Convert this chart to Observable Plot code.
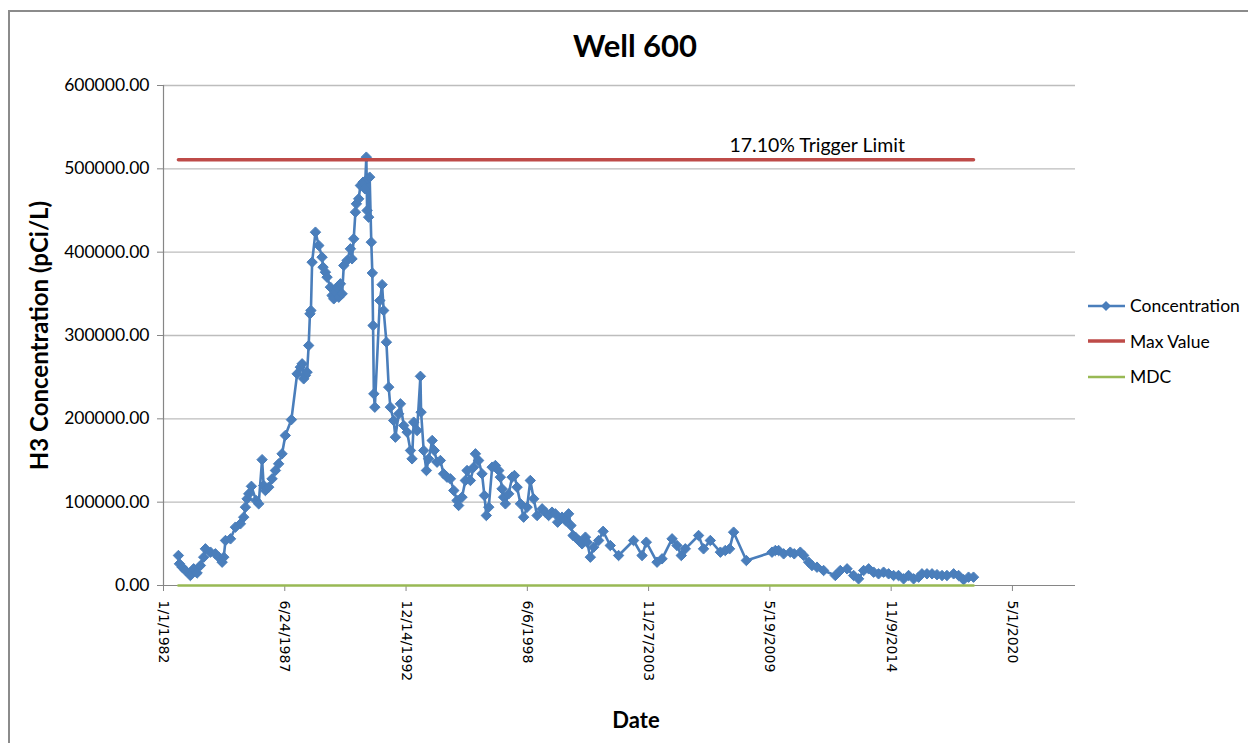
<!DOCTYPE html>
<html>
<head>
<meta charset="utf-8">
<script src="https://cdn.jsdelivr.net/npm/d3@7"></script>
<script src="https://cdn.jsdelivr.net/npm/@observablehq/plot@0.6"></script>
<style>
  html, body { margin: 0; padding: 0; background: #fff; }
  body { width: 1248px; height: 743px; position: relative; overflow: hidden; font-family: Lato, "Open Sans", sans-serif; }
  #frame { position: absolute; left: 8px; top: 10px; width: 1300px; height: 800px; border: 2px solid #8b8b8b; box-sizing: border-box; pointer-events: none; }
  #title { height: 62px; display: flex; align-items: flex-end; justify-content: center; padding-left: 22px; font-size: 31px; font-weight: bold; line-height: 31px; box-sizing: border-box; padding-bottom: 1px; }
  #row { display: flex; flex-direction: row; }
  #legend { padding-top: 226px; padding-left: 2px; }
  .item { display: flex; align-items: center; height: 35.5px; font-size: 17.5px; color: #000; }
  .item svg { margin-right: 3px; }
  #xlabel { text-align: center; padding-left: 12px; font-size: 22px; font-weight: bold; width: 1248px; margin-top: 4px; }
</style>
</head>
<body>
<div id="frame"></div>
<div id="title">Well 600</div>
<div id="row"><div id="chart"></div><div id="legend"></div></div>
<div id="xlabel">Date</div>
<script>
// ---- data ----
const sampleDates = [
"1982-09-04","1982-09-21","1982-11-05","1982-12-28","1983-03-20","1983-05-13","1983-07-09","1983-09-02","1983-10-26","1983-11-23",
"1984-02-15","1984-05-06","1984-06-29","1984-08-25","1984-09-21","1984-10-19","1985-01-10","1985-04-01","1985-06-22","1985-08-16",
"1985-09-13","1985-10-11","1985-11-07","1985-12-21","1986-03-08","1986-04-20","1986-06-15","1986-07-11","1986-08-08","1986-10-02",
"1986-11-27","1987-01-21","1987-03-15","1987-05-10","1987-07-03","1987-10-11","1988-01-14","1988-03-07","1988-04-05","1988-05-01",
"1988-05-29","1988-06-26","1988-07-22","1988-08-12","1988-08-28","1988-09-17","1988-11-11","1989-01-05","1989-02-28","1989-03-16",
"1989-04-24","1989-05-21","1989-07-15","1989-08-12","1989-09-09","1989-10-06","1989-11-04","1989-11-30","1989-12-27","1990-01-25",
"1990-02-21","1990-04-16","1990-06-10","1990-07-07","1990-08-04","1990-09-01","1990-09-17","1990-10-25","1990-11-22","1991-01-06",
"1991-02-05","1991-02-28","1991-03-13","1991-03-24","1991-04-07","1991-04-24","1991-05-21","1991-06-07","1991-06-19","1991-07-02",
"1991-07-18","1991-10-09","1991-11-15","1991-12-11","1992-01-25","1992-03-03","1992-03-30","1992-05-24","1992-06-21","1992-08-15",
"1992-09-12","1992-11-06","1993-01-01","1993-02-25","1993-03-23","1993-04-19","1993-06-14","1993-08-08","1993-08-19","1993-10-01",
"1993-11-15","1993-12-22","1994-02-18","1994-03-25","1994-05-09","1994-07-03","1994-08-26","1994-10-21","1994-12-15","1995-02-09",
"1995-04-04","1995-04-30","1995-06-25","1995-08-19","1995-09-16","1995-11-10","1996-01-04","1996-02-01","1996-03-25","1996-05-20",
"1996-06-28","1996-07-30","1996-09-08","1996-11-03","1996-12-26","1997-02-20","1997-03-18","1997-04-15","1997-05-11","1997-06-09",
"1997-08-03","1997-09-28","1997-11-05","1997-12-19","1998-02-13","1998-04-06","1998-06-02","1998-07-25","1998-09-19","1998-11-14",
"1999-02-05","1999-03-29","1999-05-23","1999-07-18","1999-09-11","1999-10-19","1999-12-30","2000-02-24","2000-04-17","2000-05-26",
"2000-06-29","2000-08-07","2000-09-30","2000-11-25","2001-01-19","2001-02-16","2001-04-10","2001-06-04","2001-08-25","2001-11-07",
"2002-03-05","2002-07-20","2003-03-24","2003-08-11","2003-10-20","2004-04-14","2004-07-06","2004-12-18","2005-03-09","2005-05-19",
"2005-07-24","2006-02-28","2006-05-21","2006-09-10","2007-02-23","2007-05-14","2007-07-24","2007-09-29","2008-04-26","2009-06-23",
"2009-08-17","2009-10-10","2010-01-01","2010-04-20","2010-06-25","2010-10-03","2010-11-27","2011-02-18","2011-04-13","2011-07-05",
"2011-10-22","2012-05-02","2012-07-23","2012-11-12","2013-02-28","2013-05-20","2013-08-12","2013-11-03","2014-01-24","2014-04-15",
"2014-07-07","2014-09-28","2014-12-19","2015-03-10","2015-06-02","2015-08-23","2015-11-14","2016-02-05","2016-03-31","2016-06-22",
"2016-09-13","2016-12-04","2017-02-25","2017-05-17","2017-09-04","2017-11-25","2018-02-16","2018-05-08","2018-07-29"
];
const concentration = [
36000,26000,22000,18000,12000,20000,15000,24000,34000,44000,
40000,38000,34000,28000,34000,54000,56000,70000,74000,82000,
94000,104000,110000,119000,102000,98000,151000,120000,114000,118000,
128000,138000,146000,158000,180000,199000,254000,262000,266000,248000,
252000,256000,288000,326000,330000,388000,424000,408000,394000,382000,
376000,370000,358000,348000,344000,352000,358000,346000,362000,350000,
384000,390000,404000,392000,416000,448000,458000,464000,480000,484000,
476000,514000,450000,488000,442000,490000,412000,375000,312000,230000,
214000,342000,361000,330000,292000,238000,214000,198000,178000,206000,
218000,192000,184000,162000,152000,196000,186000,251000,208000,162000,
138000,152000,174000,162000,148000,150000,134000,130000,128000,114000,
102000,96000,106000,126000,138000,126000,142000,158000,150000,134000,
108000,84000,94000,142000,144000,138000,130000,116000,106000,98000,
110000,130000,132000,118000,98000,82000,94000,126000,104000,84000,
92000,88000,84000,88000,86000,76000,82000,78000,86000,72000,
60000,58000,54000,50000,58000,52000,34000,46000,54000,65000,
48000,36000,54000,36000,52000,28000,32000,56000,48000,36000,
44000,60000,44000,54000,40000,42000,44000,64000,30000,40000,
42000,42000,38000,40000,38000,40000,36000,28000,24000,22000,
18000,12000,18000,20000,12000,8000,18000,20000,16000,14000,
16000,14000,12000,12000,8000,12000,8000,10000,14000,14000,
14000,13000,12000,12000,14000,12000,7000,10000,10000
];
const maxValue = 511000;       // "Max Value" series (17.10% Trigger Limit)
const mdcValue = 0;            // "MDC" series
const triggerLabel = "17.10% Trigger Limit";
const triggerLabelDate = "2011-07-08";
const yTicks = [0, 100000, 200000, 300000, 400000, 500000, 600000];
const xTickLabels = ["1/1/1982","6/24/1987","12/14/1992","6/6/1998","11/27/2003","5/19/2009","11/9/2014","5/1/2020"];
const xDomainLabels = ["1/1/1982","3/7/2023"];
const seriesNames = ["Concentration", "Max Value", "MDC"];
const seriesColors = ["#4a7ebb", "#be4b48", "#98b954"];

// ---- build ----
const parseISO = d3.utcParse("%Y-%m-%d");
const parseMDY = d3.utcParse("%m/%d/%Y");
const fmtMDY = d => `${d.getUTCMonth() + 1}/${d.getUTCDate()}/${d.getUTCFullYear()}`;
const data = sampleDates.map((d, i) => ({date: parseISO(d), value: concentration[i]}));
const firstDate = data[0].date, lastDate = data[data.length - 1].date;
const maxLine = [{date: firstDate, value: maxValue}, {date: lastDate, value: maxValue}];
const mdcLine = [{date: firstDate, value: mdcValue}, {date: lastDate, value: mdcValue}];
const xTicks = xTickLabels.map(parseMDY);
const xDomain = xDomainLabels.map(parseMDY);
const axisColor = "#868686";

const chart = Plot.plot({
  width: 1085,
  height: 640,
  marginLeft: 163,
  marginRight: 10,
  marginTop: 23,
  marginBottom: 117,
  style: {fontFamily: "Lato, 'Open Sans', sans-serif", background: "transparent", color: "#000"},
  x: {type: "utc", domain: xDomain},
  y: {domain: [0, 600000]},
  marks: [
    Plot.gridY(yTicks.filter(t => t > 0), {stroke: "#bdbdbd", strokeOpacity: 1, strokeWidth: 1.4}),
    Plot.axisY(yTicks, {tickFormat: d3.format(".2f"), tickSize: 6, tickPadding: 8, fontSize: 17.5, label: null, stroke: axisColor}),
    Plot.axisX(xTicks, {tickFormat: fmtMDY, tickRotate: 90, tickSize: 6, tickPadding: 9, fontSize: 14, label: null, stroke: axisColor}),
    Plot.ruleX([xDomain[0]], {stroke: axisColor, strokeWidth: 1.2}),
    Plot.ruleY([0], {stroke: axisColor, strokeWidth: 1.2}),
    Plot.line(data, {x: "date", y: "value", stroke: seriesColors[0], strokeWidth: 2.6}),
    Plot.dot(data, {x: "date", y: "value", symbol: "diamond2", r: 4.7, fill: seriesColors[0], stroke: seriesColors[0], strokeWidth: 1}),
    Plot.line(maxLine, {x: "date", y: "value", stroke: seriesColors[1], strokeWidth: 3.5}),
    Plot.line(mdcLine, {x: "date", y: "value", stroke: seriesColors[2], strokeWidth: 2.6}),
    Plot.text([triggerLabel], {x: () => parseISO(triggerLabelDate), y: () => maxValue, text: d => d, dy: -14, fontSize: 19.5, fill: "#000"}),
    Plot.text(["H3 Concentration (pCi/L)"], {frameAnchor: "left", dx: -123, rotate: -90, fontSize: 24, fontWeight: "bold", fill: "#000", textAnchor: "middle"})
  ]
});
// date tick labels use a wider sans, as in the reference
const dateLabelSet = new Set(xTickLabels);
d3.select(chart).selectAll("text")
  .filter(function () { return dateLabelSet.has(this.textContent.trim()); })
  .style("font-family", "'DejaVu Sans', sans-serif")
  .style("font-size", "14px");
document.getElementById("chart").appendChild(chart);

// ---- legend ----
const legend = document.getElementById("legend");
seriesNames.forEach((name, i) => {
  const item = document.createElement("div");
  item.className = "item";
  const marker = i === 0 ? `<path d="M19 1 L24 6 L19 11 L14 6 Z" fill="${seriesColors[0]}"/>` : "";
  item.innerHTML = `<svg width="40" height="12"><line x1="1" y1="6" x2="38" y2="6" stroke="${seriesColors[i]}" stroke-width="${i === 1 ? 3.5 : 2.6}"/>${marker}</svg><span>${name}</span>`;
  legend.appendChild(item);
});
</script>
</body>
</html>
